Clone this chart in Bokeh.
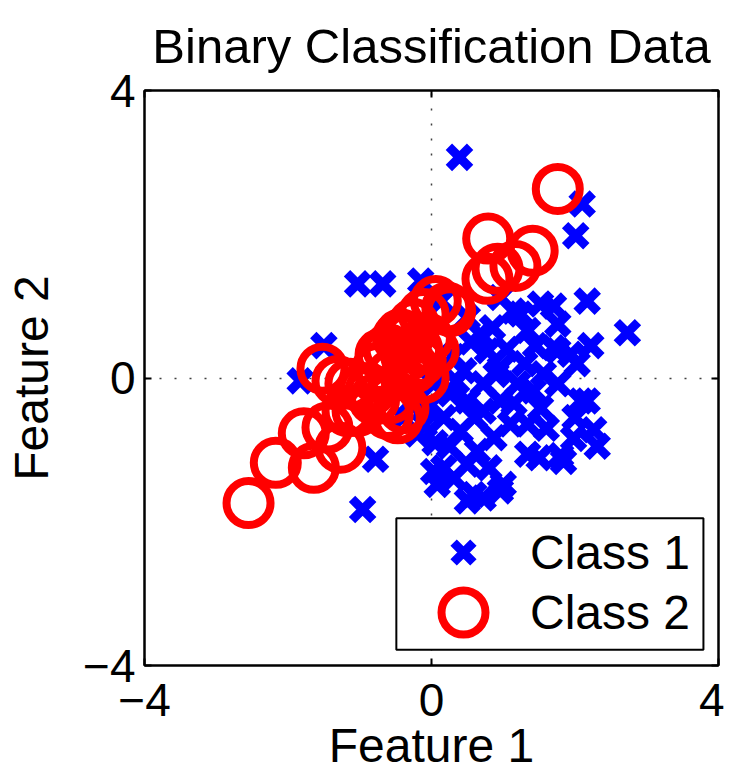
from bokeh.plotting import figure
from bokeh.models import (FixedTicker, LinearAxis, Range1d, Legend, LegendItem, Title,
                          BoxAnnotation)
from bokeh.embed import file_html
from bokeh.resources import INLINE

# ---- data ----
class1_x = [0.39, 2.10, 2.01, -1.03, -0.68, -0.15, -1.50, -1.83, -0.96, -0.78,
            0.03, 2.17, 2.73, 2.22, 1.52, 1.76, 2.03, 2.17, 2.26, 2.31,
            1.98, 1.80, 1.50, 1.34, 1.00, 0.72, 0.59, 0.17, 0.08, -0.20,
            0.96, 1.20, 1.42, 1.56, 0.78, 0.68, 1.14, 1.34, 1.76, 0.72,
            0.50, 0.26, 0.03, 0.17, 0.40, -0.06, 0.72, 0.96, 1.10, 0.87,
            0.64, 0.50, 0.31, 1.34, 1.76, 1.94, 0.96, 0.50, 1.24, 1.70,
            0.50, 0.96, 1.84, 2.08, 1.52, 0.13, 0.30, 0.45, 1.05, 0.85,
            1.30, 0.60, 0.25, -0.10, 0.05, 1.15, 0.80, 1.60, 2.00, 1.45,
            0.35, -0.30, 0.90, 1.70, 0.55, -0.40]
class1_y = [3.07, 2.42, 1.98, 1.31, 1.31, 1.35, 0.45, -0.04, -1.83, -1.13,
            -1.30, 1.07, 0.63, 0.45, 1.03, 0.75, 0.20, -0.32, -0.72, -0.95,
            -0.84, -1.08, -1.11, -1.06, -1.48, -1.67, -1.62, -1.25, -1.48, -0.78,
            0.14, -0.08, -0.18, 0.06, 0.38, 0.61, 0.93, 0.66, 0.38, -0.08,
            -0.32, -0.22, -0.08, -0.55, -0.74, -0.42, -0.46, -0.32, -0.64, -0.83,
            -1.02, -1.20, -1.39, -0.64, -0.08, 0.33, 1.12, 0.84, 0.89, 0.42,
            -1.71, -1.57, -1.16, -0.32, -0.42, 1.07, 0.30, 0.10, 0.40, 0.70,
            0.20, -0.55, -0.95, -0.65, -0.90, -0.35, -1.25, -0.70, -0.55, 0.45,
            -0.05, -0.35, 0.05, 1.00, 0.50, -0.55]

class2_x = [1.76, 0.79, 1.41, 1.17, 0.92, 0.78, 0.06, 0.26, 0.03, -2.55,
            -2.17, -1.64, -1.78, -1.52, -1.31, -1.45, -1.27, -0.61, -1.03, -0.85,
            -1.13, -0.75, -0.43, -0.25, -0.11, 0.22, -0.71, -0.47, -0.15, -0.33,
            -0.11, -0.95, -0.57, -0.47, -1.17, -0.33, -0.25, -0.39, -0.60, -0.20,
            -0.05, -0.55, -0.80, -0.35]
class2_y = [2.63, 1.94, 1.77, 1.56, 1.52, 1.38, 1.07, 0.93, 0.38, -1.74,
            -1.18, -1.25, -0.77, 0.13, -0.04, -0.69, -0.97, -0.50, -0.46, -0.18,
            -0.08, 0.14, 0.61, 0.75, 0.89, 0.98, 0.33, 0.56, 0.24, 0.10,
            0.00, -0.14, -0.28, -0.56, -0.46, 0.56, 0.14, -0.42, 0.40, 0.40,
            0.55, 0.05, -0.30, 0.30]

ticks = [-4, 0, 4]
tick_labels = {-4: "\u22124", 0: "0", 4: "4"}
title_text = "Binary Classification Data"
xlabel = "Feature 1"
ylabel = "Feature 2"
legend_labels = ["Class 1", "Class 2"]
# legend frame (data units, lower-right corner of the axes)
legend_box = dict(left=-0.49, right=3.79, top=-1.95, bottom=-3.78)

FONT = "Liberation Sans"

p = figure(width=724, height=774, output_backend="svg", toolbar_location=None,
           x_range=Range1d(-4, 4), y_range=Range1d(-4, 4),
           min_border_left=144, min_border_right=6, min_border_top=90,
           min_border_bottom=102, title=None)
p.title = Title(text=title_text, align="center", text_font=FONT,
                text_font_size="49px", text_font_style="normal",
                text_color="black", standoff=32, vertical_align="top")
p.outline_line_color = "black"
p.outline_line_width = 2
p.background_fill_color = "white"
p.border_fill_color = "white"

for ax in (p.xaxis[0], p.yaxis[0]):
    ax.ticker = FixedTicker(ticks=ticks)
    ax.major_label_overrides = tick_labels
    ax.major_tick_in = 7
    ax.major_tick_out = 0
    ax.minor_tick_line_color = None
    ax.axis_line_color = "black"
    ax.axis_line_width = 2
    ax.major_tick_line_width = 2
    ax.major_label_text_font = FONT
    ax.major_label_text_font_size = "46px"
    ax.major_label_text_color = "black"
    ax.axis_label_text_font = FONT
    ax.axis_label_text_font_size = "48px"
    ax.axis_label_text_font_style = "normal"
    ax.axis_label_text_color = "black"

p.xaxis.axis_label = xlabel
p.yaxis.axis_label = ylabel
p.xaxis.major_label_standoff = 18
p.xaxis.axis_label_standoff = 0
p.yaxis.major_label_standoff = 9
p.yaxis.axis_label_standoff = 22

# top / right axes: inward ticks only, labels not drawn
for loc in ("above", "right"):
    a = LinearAxis(ticker=FixedTicker(ticks=ticks), major_tick_in=7, major_tick_out=0,
                   minor_tick_line_color=None, major_label_text_font_size="1px",
                   major_label_text_color=None,
                   major_label_standoff=0, axis_line_color="black", axis_line_width=2,
                   major_tick_line_width=2)
    p.add_layout(a, loc)

for g in (p.xgrid[0], p.ygrid[0]):
    g.ticker = FixedTicker(ticks=[0])
    g.grid_line_color = "#404040"
    g.grid_line_width = 1.5
    g.grid_line_dash = "2 13"

r1 = p.scatter(class1_x, class1_y, marker="x", size=30, line_color="#0000ff",
               line_width=9)
r2 = p.scatter(class2_x, class2_y, marker="circle", size=44, fill_color=None,
               line_color="#ff0000", line_width=8)

box = BoxAnnotation(**legend_box, fill_color="white", fill_alpha=1.0,
                    line_color="black", line_width=2, line_alpha=1.0)
p.add_layout(box)

leg1 = Legend(items=[LegendItem(label=legend_labels[0], renderers=[r1])],
              location=(284, 78), margin=0, padding=0, spacing=0,
              glyph_width=70, glyph_height=70, label_height=70,
              label_standoff=32, label_text_font=FONT,
              label_text_font_size="48px", label_text_color="black",
              border_line_color=None, background_fill_alpha=0.0)
leg2 = Legend(items=[LegendItem(label=legend_labels[1], renderers=[r2])],
              location=(264, -2), margin=0, padding=0, spacing=0,
              glyph_width=110, glyph_height=110, label_height=110,
              label_standoff=12, label_text_font=FONT,
              label_text_font_size="48px", label_text_color="black",
              border_line_color=None, background_fill_alpha=0.0)
p.add_layout(leg1)
p.add_layout(leg2)

open("out.html", "w").write(file_html(p, INLINE))
